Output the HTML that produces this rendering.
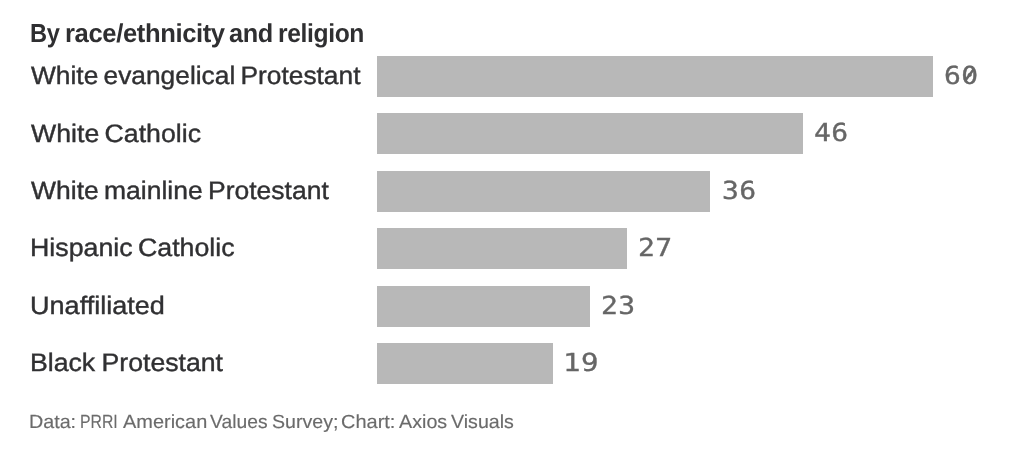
<!DOCTYPE html>
<html lang="en">
<head>
<meta charset="utf-8">
<title>By race/ethnicity and religion</title>
<style>
html,body{margin:0;padding:0;background:#fff;}
body{text-rendering:geometricPrecision;width:1022px;height:452px;position:relative;overflow:hidden;font-family:"Liberation Sans",Arial,sans-serif;}
.t{position:absolute;white-space:nowrap;line-height:1;margin:0;transform-origin:0 0;}
#title{left:0;top:19.85px;width:400px;height:26px;font-size:26px;font-weight:bold;color:#2f2f31;letter-spacing:-0.4px;}
.lab{left:31px;font-size:25.2px;color:#303032;word-spacing:-2px;-webkit-text-stroke:0.4px #303032;}
.bar{position:absolute;left:376.7px;height:41px;background:#b8b8b8;}
.val{font-family:"DejaVu Sans Mono","Liberation Mono",monospace;font-size:24.8px;color:#666;letter-spacing:0.38px;transform:scale(1.13,1);text-rendering:geometricPrecision;-webkit-text-stroke:0.35px #666;}
#foot{left:0;top:413px;width:600px;height:19px;font-size:19px;color:#6b6b6b;-webkit-text-stroke:0.15px #6b6b6b;}
#title span,#foot span{position:absolute;top:0;white-space:nowrap;line-height:1;transform-origin:0 0;}
</style>
</head>
<body>
<div class="t" id="title"><span style="left:29.9px;transform:scaleX(0.9091)">By</span> <span style="left:65.21px;transform:scaleX(0.9858)">race/ethnicity</span> <span style="left:229.47px;transform:scaleX(0.9737)">and</span> <span style="left:278.17px;transform:scaleX(0.9487)">religion</span></div>

<div class="t lab" id="l0" style="top:63.66px;left:31.00px;transform:scaleX(1.0452)">White evangelical Protestant</div>
<div class="bar" id="b0" style="top:56px;width:556.1px"></div>
<svg id="slash" style="position:absolute;left:960px;top:62px" width="20" height="26" viewBox="0 0 20 26"><line x1="5.0" y1="19.0" x2="14.0" y2="6.8" stroke="#666" stroke-width="2.5" stroke-linecap="butt"/></svg>
<div class="t val" id="v0" style="top:64.0px;left:944.40px">60</div>

<div class="t lab" id="l1" style="top:121.66px;left:31.10px;transform:scaleX(1.0600)">White Catholic</div>
<div class="bar" id="b1" style="top:113.4px;width:426.4px"></div>
<div class="t val" id="v1" style="top:121.4px;left:814.20px">46</div>

<div class="t lab" id="l2" style="top:179.06px;left:31.10px;transform:scaleX(1.0522)">White mainline Protestant</div>
<div class="bar" id="b2" style="top:170.8px;width:333.7px"></div>
<div class="t val" id="v2" style="top:178.8px;left:722.00px">36</div>

<div class="t lab" id="l3" style="top:235.86px;left:29.65px;transform:scaleX(1.0624)">Hispanic Catholic</div>
<div class="bar" id="b3" style="top:228.2px;width:250.3px"></div>
<div class="t val" id="v3" style="top:236.2px;left:638.25px">27</div>

<div class="t lab" id="l4" style="top:293.86px;left:30.00px;transform:scaleX(1.0745)">Unaffiliated</div>
<div class="bar" id="b4" style="top:285.6px;width:213.2px"></div>
<div class="t val" id="v4" style="top:293.6px;left:601.25px">23</div>

<div class="t lab" id="l5" style="top:350.66px;left:30.45px;word-spacing:-1px;transform:scaleX(1.0582)">Black Protestant</div>
<div class="bar" id="b5" style="top:343px;width:176.1px"></div>
<div class="t val" id="v5" style="top:351.0px;left:562.9px;transform:scaleX(1.172)">19</div>

<div class="t" id="foot"><span style="left:29.08px;transform:scaleX(1.0371)">Data:</span> <span style="left:80.31px;transform:scaleX(0.8299)">PRRI</span> <span style="left:122.87px;transform:scaleX(1.05)">American</span> <span style="left:209.85px;transform:scaleX(1.0149)">Values</span> <span style="left:271.78px;transform:scaleX(1.0309)">Survey;</span> <span style="left:340.53px;transform:scaleX(1.0519)">Chart:</span> <span style="left:399.01px;transform:scaleX(1.0373)">Axios</span> <span style="left:450.84px;transform:scaleX(1.0332)">Visuals</span></div>
</body>
</html>
